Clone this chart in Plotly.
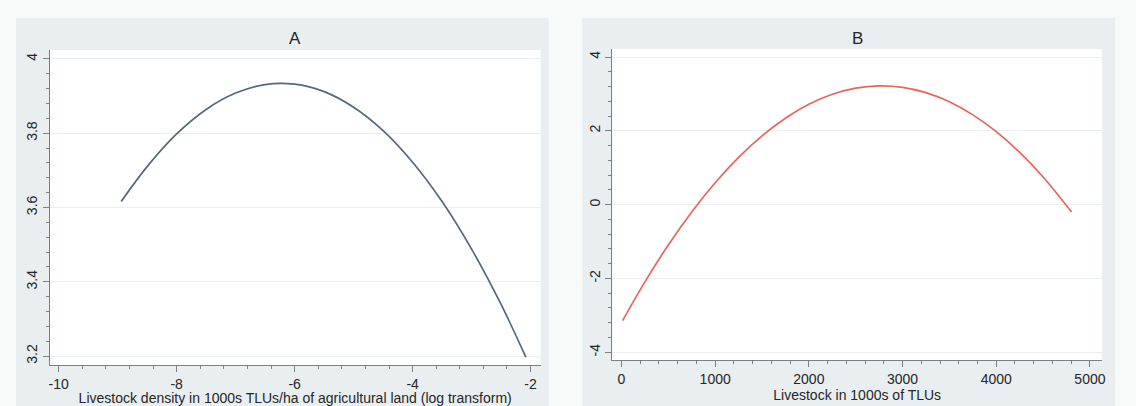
import plotly.graph_objects as go

# ---- data ----
a_x = [-8.94, -8.5, -8.0, -7.5, -7.0, -6.5, -6.0, -5.5, -5.0, -4.5, -4.0, -3.5, -3.0, -2.5, -2.08]
a_y = [3.616, 3.710, 3.798, 3.864, 3.908, 3.931, 3.932, 3.912, 3.870, 3.807, 3.722, 3.616, 3.488, 3.339, 3.197]

b_x = [12, 250, 500, 750, 1000, 1250, 1500, 1750, 2000, 2250, 2500, 2750, 3000, 3250, 3500, 3750, 4000, 4250, 4500, 4804]
b_y = [-3.141, -2.093, -1.094, -0.199, 0.593, 1.280, 1.863, 2.342, 2.718, 2.989, 3.156, 3.219, 3.179, 3.034,
       2.785, 2.432, 1.976, 1.415, 0.750, -0.199]

a_xticks = [-10, -8, -6, -4, -2]
a_xlabels = ["-10", "-8", "-6", "-4", "-2"]
a_yticks = [3.2, 3.4, 3.6, 3.8, 4.0]
a_ylabels = ["3.2", "3.4", "3.6", "3.8", "4"]
b_xticks = [0, 1000, 2000, 3000, 4000, 5000]
b_xlabels = ["0", "1000", "2000", "3000", "4000", "5000"]
b_yticks = [-4, -2, 0, 2, 4]
b_ylabels = ["-4", "-2", "0", "2", "4"]

titles = ["A", "B"]
a_xtitle = "Livestock density in 1000s TLUs/ha of agricultural land (log transform)"
b_xtitle = "Livestock in 1000s of TLUs"

W, H = 1136, 406
FONT = "Liberation Sans, Arial, sans-serif"
TXT = "#262626"
PAGE_BG = "#f6faf8"
PANEL_BG = "#e9eef1"
AXIS = "#7a7f84"
GRID = "#ebeef0"

def px(x):
    return x / W

def py(y):
    return (H - y) / H

fig = go.Figure()
fig.add_trace(go.Scatter(x=a_x, y=a_y, mode="lines", line=dict(color="#56687f", width=1.7, shape="spline"),
                         xaxis="x", yaxis="y", showlegend=False))
fig.add_trace(go.Scatter(x=b_x, y=b_y, mode="lines", line=dict(color="#e5655f", width=1.7, shape="spline"),
                         xaxis="x2", yaxis="y2", showlegend=False))

# panel geometry (pixels)
A_plot = dict(l=49, r=542, t=50, b=365)
B_plot = dict(l=614, r=1106, t=49, b=360)
A_panel = dict(l=15, r=550, t=18, b=406)
B_panel = dict(l=584, r=1119, t=18, b=406)

shapes = []
for p in (A_panel, B_panel):
    shapes.append(dict(type="rect", xref="paper", yref="paper", layer="below",
                       x0=px(p["l"]), x1=px(p["r"]), y0=py(p["b"]), y1=py(p["t"]),
                       fillcolor=PANEL_BG, line=dict(width=0)))
for p in (A_plot, B_plot):
    shapes.append(dict(type="rect", xref="paper", yref="paper", layer="below",
                       x0=px(p["l"]), x1=px(p["r"]), y0=py(p["b"]), y1=py(p["t"]),
                       fillcolor="white", line=dict(width=0)))

def xaxis(domain, rng, tv, tt, title, t0, minor_dt, anchor):
    return dict(domain=domain, range=rng, tickmode="array", tickvals=tv, ticktext=tt, anchor=anchor,
                ticks="outside", ticklen=6, tickcolor=AXIS, tickwidth=1,
                showline=True, linecolor=AXIS, linewidth=1, showgrid=False, zeroline=False,
                tickfont=dict(family=FONT, size=14, color=TXT),
                title=dict(text=title, standoff=0, font=dict(family=FONT, size=14, color=TXT)),
                minor=dict(tick0=t0, dtick=minor_dt, ticks="outside", ticklen=3, tickcolor=AXIS, showgrid=False),
                fixedrange=True)

def yaxis(domain, rng, tv, tt, t0, minor_dt, anchor):
    return dict(domain=domain, range=rng, tickmode="array", tickvals=tv, ticktext=tt, anchor=anchor,
                ticks="outside", ticklen=6, tickcolor=AXIS, tickwidth=1, tickangle=-90,
                showline=True, linecolor=AXIS, linewidth=1, showgrid=True, gridcolor=GRID, gridwidth=1,
                zeroline=False,
                tickfont=dict(family=FONT, size=14, color=TXT),
                minor=dict(tick0=t0, dtick=minor_dt, ticks="outside", ticklen=3, tickcolor=AXIS, showgrid=False),
                fixedrange=True)

fig.update_layout(
    width=W, height=H,
    margin=dict(l=0, r=0, t=0, b=0),
    paper_bgcolor=PAGE_BG,
    plot_bgcolor="rgba(0,0,0,0)",
    shapes=shapes,
    xaxis=xaxis([px(A_plot["l"]), px(A_plot["r"])], [-10.15, -1.83], a_xticks, a_xlabels, a_xtitle, -10, 0.4, "y"),
    yaxis=yaxis([py(A_plot["b"]), py(A_plot["t"])], [3.176, 4.024], a_yticks, a_ylabels, 3.2, 0.04, "x"),
    xaxis2=xaxis([px(B_plot["l"]), px(B_plot["r"])], [-98, 5130], b_xticks, b_xlabels, b_xtitle, 0, 200, "y2"),
    yaxis2=yaxis([py(B_plot["b"]), py(B_plot["t"])], [-4.21, 4.217], b_yticks, b_ylabels, -4, 0.4, "x2"),
    annotations=[
        dict(text=titles[0], xref="paper", yref="paper", x=px((A_plot["l"] + A_plot["r"]) / 2), y=py(38),
             xanchor="center", yanchor="middle", showarrow=False, font=dict(family=FONT, size=17, color=TXT)),
        dict(text=titles[1], xref="paper", yref="paper", x=px((B_plot["l"] + B_plot["r"]) / 2), y=py(38),
             xanchor="center", yanchor="middle", showarrow=False, font=dict(family=FONT, size=17, color=TXT)),
    ],
)

fig.write_html("out.html")
